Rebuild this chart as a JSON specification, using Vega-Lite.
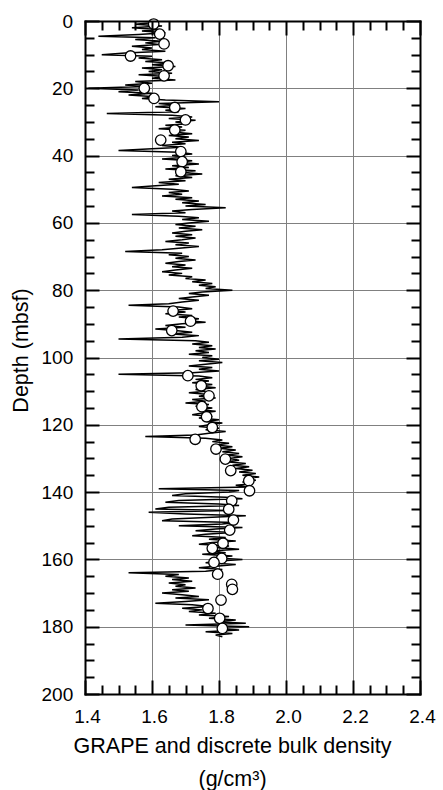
{
  "$schema": "https://vega.github.io/schema/vega-lite/v6.json",
  "width": 335,
  "height": 673,
  "autosize": "none",
  "padding": {"left": 85, "top": 21, "right": 23, "bottom": 96},
  "background": "white",
  "config": {
    "view": {"stroke": null},
    "axis": {"labelFont": "Liberation Sans", "titleFont": "Liberation Sans", "labelColor": "black", "titleColor": "black", "tickColor": "black", "domainColor": "black"}
  },
  "datasets": {
    "grape": [
      {"depth":0.5,"density":1.60},{"depth":1.0,"density":1.55},{"depth":1.5,"density":1.63},{"depth":2.0,"density":1.54},{"depth":2.5,"density":1.62},{"depth":3.0,"density":1.57},{"depth":3.5,"density":1.64},{"depth":4.0,"density":1.56},{"depth":4.5,"density":1.44},{"depth":5.0,"density":1.61},
      {"depth":5.5,"density":1.55},{"depth":6.0,"density":1.63},{"depth":6.5,"density":1.58},{"depth":7.0,"density":1.62},{"depth":7.5,"density":1.54},{"depth":8.0,"density":1.60},{"depth":8.5,"density":1.57},{"depth":9.0,"density":1.64},{"depth":9.5,"density":1.52},{"depth":10.0,"density":1.45},
      {"depth":10.5,"density":1.60},{"depth":11.0,"density":1.56},{"depth":11.5,"density":1.63},{"depth":12.0,"density":1.58},{"depth":12.5,"density":1.66},{"depth":13.0,"density":1.60},{"depth":13.5,"density":1.67},{"depth":14.0,"density":1.57},{"depth":14.5,"density":1.63},{"depth":15.0,"density":1.59},
      {"depth":15.5,"density":1.66},{"depth":16.0,"density":1.56},{"depth":16.5,"density":1.64},{"depth":17.0,"density":1.60},{"depth":17.5,"density":1.67},{"depth":18.0,"density":1.55},{"depth":18.5,"density":1.60},{"depth":19.0,"density":1.52},{"depth":19.5,"density":1.58},{"depth":20.0,"density":1.41},
      {"depth":20.5,"density":1.56},{"depth":21.0,"density":1.50},{"depth":21.5,"density":1.60},{"depth":22.0,"density":1.53},{"depth":22.5,"density":1.61},{"depth":23.0,"density":1.57},{"depth":23.5,"density":1.64},{"depth":24.0,"density":1.80},{"depth":24.5,"density":1.62},{"depth":25.0,"density":1.67},
      {"depth":25.5,"density":1.61},{"depth":26.0,"density":1.70},{"depth":26.5,"density":1.64},{"depth":27.0,"density":1.68},{"depth":27.5,"density":1.465},{"depth":28.0,"density":1.66},{"depth":28.5,"density":1.72},{"depth":29.0,"density":1.65},{"depth":29.5,"density":1.73},{"depth":30.0,"density":1.67},
      {"depth":30.5,"density":1.71},{"depth":31.0,"density":1.64},{"depth":31.5,"density":1.69},{"depth":32.0,"density":1.62},{"depth":32.5,"density":1.70},{"depth":33.0,"density":1.66},{"depth":33.5,"density":1.72},{"depth":34.0,"density":1.65},{"depth":34.5,"density":1.71},{"depth":35.0,"density":1.67},
      {"depth":35.5,"density":1.74},{"depth":36.0,"density":1.66},{"depth":36.5,"density":1.70},{"depth":37.0,"density":1.63},{"depth":37.5,"density":1.69},{"depth":38.0,"density":1.60},{"depth":38.5,"density":1.50},{"depth":39.0,"density":1.68},{"depth":39.5,"density":1.72},{"depth":40.0,"density":1.66},
      {"depth":40.5,"density":1.70},{"depth":41.0,"density":1.63},{"depth":41.5,"density":1.72},{"depth":42.0,"density":1.68},{"depth":42.5,"density":1.74},{"depth":43.0,"density":1.66},{"depth":43.5,"density":1.71},{"depth":44.0,"density":1.64},{"depth":44.5,"density":1.73},{"depth":45.0,"density":1.69},
      {"depth":45.5,"density":1.75},{"depth":46.0,"density":1.67},{"depth":46.5,"density":1.72},{"depth":47.0,"density":1.65},{"depth":47.5,"density":1.70},{"depth":48.0,"density":1.62},{"depth":48.5,"density":1.68},{"depth":49.0,"density":1.60},{"depth":49.5,"density":1.54},{"depth":50.0,"density":1.66},
      {"depth":50.5,"density":1.71},{"depth":51.0,"density":1.65},{"depth":51.5,"density":1.69},{"depth":52.0,"density":1.63},{"depth":52.5,"density":1.72},{"depth":53.0,"density":1.67},{"depth":53.5,"density":1.74},{"depth":54.0,"density":1.69},{"depth":54.5,"density":1.76},{"depth":55.0,"density":1.70},
      {"depth":55.5,"density":1.82},{"depth":56.0,"density":1.72},{"depth":56.5,"density":1.66},{"depth":57.0,"density":1.70},{"depth":57.5,"density":1.54},{"depth":58.0,"density":1.68},{"depth":58.5,"density":1.74},{"depth":59.0,"density":1.69},{"depth":59.5,"density":1.77},{"depth":60.0,"density":1.71},
      {"depth":60.5,"density":1.67},{"depth":61.0,"density":1.73},{"depth":61.5,"density":1.68},{"depth":62.0,"density":1.75},{"depth":62.5,"density":1.70},{"depth":63.0,"density":1.66},{"depth":63.5,"density":1.72},{"depth":64.0,"density":1.67},{"depth":64.5,"density":1.73},{"depth":65.0,"density":1.69},
      {"depth":65.5,"density":1.64},{"depth":66.0,"density":1.71},{"depth":66.5,"density":1.67},{"depth":67.0,"density":1.74},{"depth":67.5,"density":1.68},{"depth":68.0,"density":1.63},{"depth":68.5,"density":1.52},{"depth":69.0,"density":1.69},{"depth":69.5,"density":1.65},{"depth":70.0,"density":1.71},
      {"depth":70.5,"density":1.67},{"depth":71.0,"density":1.73},{"depth":71.5,"density":1.68},{"depth":72.0,"density":1.64},{"depth":72.5,"density":1.70},{"depth":73.0,"density":1.66},{"depth":73.5,"density":1.72},{"depth":74.0,"density":1.67},{"depth":74.5,"density":1.63},{"depth":75.0,"density":1.69},
      {"depth":75.5,"density":1.65},{"depth":76.0,"density":1.72},{"depth":76.5,"density":1.70},{"depth":77.0,"density":1.76},{"depth":77.5,"density":1.72},{"depth":78.0,"density":1.78},{"depth":78.5,"density":1.74},{"depth":79.0,"density":1.79},{"depth":79.5,"density":1.76},{"depth":80.0,"density":1.84},
      {"depth":80.5,"density":1.75},{"depth":81.0,"density":1.71},{"depth":81.5,"density":1.77},{"depth":82.0,"density":1.72},{"depth":82.5,"density":1.68},{"depth":83.0,"density":1.74},{"depth":83.5,"density":1.69},{"depth":84.0,"density":1.65},{"depth":84.5,"density":1.53},{"depth":85.0,"density":1.68},
      {"depth":85.5,"density":1.72},{"depth":86.0,"density":1.66},{"depth":86.5,"density":1.70},{"depth":87.0,"density":1.64},{"depth":87.5,"density":1.72},{"depth":88.0,"density":1.68},{"depth":88.5,"density":1.74},{"depth":89.0,"density":1.70},{"depth":89.5,"density":1.76},{"depth":90.0,"density":1.69},
      {"depth":90.5,"density":1.64},{"depth":91.0,"density":1.70},{"depth":91.5,"density":1.61},{"depth":92.0,"density":1.67},{"depth":92.5,"density":1.72},{"depth":93.0,"density":1.66},{"depth":93.5,"density":1.74},{"depth":94.0,"density":1.69},{"depth":94.5,"density":1.50},{"depth":95.0,"density":1.73},
      {"depth":95.5,"density":1.77},{"depth":96.0,"density":1.72},{"depth":96.5,"density":1.78},{"depth":97.0,"density":1.74},{"depth":97.5,"density":1.79},{"depth":98.0,"density":1.73},{"depth":98.5,"density":1.77},{"depth":99.0,"density":1.71},{"depth":99.5,"density":1.78},{"depth":100.0,"density":1.75},
      {"depth":100.5,"density":1.80},{"depth":101.0,"density":1.74},{"depth":101.5,"density":1.81},{"depth":102.0,"density":1.76},{"depth":102.5,"density":1.71},{"depth":103.0,"density":1.78},{"depth":103.5,"density":1.74},{"depth":104.0,"density":1.80},{"depth":104.5,"density":1.72},{"depth":105.0,"density":1.50},
      {"depth":105.5,"density":1.74},{"depth":106.0,"density":1.78},{"depth":106.5,"density":1.73},{"depth":107.0,"density":1.77},{"depth":107.5,"density":1.72},{"depth":108.0,"density":1.78},{"depth":108.5,"density":1.74},{"depth":109.0,"density":1.79},{"depth":109.5,"density":1.73},{"depth":110.0,"density":1.76},
      {"depth":110.5,"density":1.71},{"depth":111.0,"density":1.77},{"depth":111.5,"density":1.74},{"depth":112.0,"density":1.79},{"depth":112.5,"density":1.72},{"depth":113.0,"density":1.76},{"depth":113.5,"density":1.70},{"depth":114.0,"density":1.77},{"depth":114.5,"density":1.73},{"depth":115.0,"density":1.78},
      {"depth":115.5,"density":1.74},{"depth":116.0,"density":1.79},{"depth":116.5,"density":1.75},{"depth":117.0,"density":1.72},{"depth":117.5,"density":1.78},{"depth":118.0,"density":1.74},{"depth":118.5,"density":1.80},{"depth":119.0,"density":1.76},{"depth":119.5,"density":1.81},{"depth":120.0,"density":1.77},
      {"depth":120.5,"density":1.74},{"depth":121.0,"density":1.80},{"depth":121.5,"density":1.76},{"depth":122.0,"density":1.82},{"depth":122.5,"density":1.77},{"depth":123.0,"density":1.73},{"depth":123.5,"density":1.58},{"depth":124.0,"density":1.76},{"depth":124.5,"density":1.81},{"depth":125.0,"density":1.78},
      {"depth":125.5,"density":1.83},{"depth":126.0,"density":1.79},{"depth":126.5,"density":1.84},{"depth":127.0,"density":1.80},{"depth":127.5,"density":1.85},{"depth":128.0,"density":1.81},{"depth":128.5,"density":1.86},{"depth":129.0,"density":1.82},{"depth":129.5,"density":1.87},{"depth":130.0,"density":1.83},
      {"depth":130.5,"density":1.86},{"depth":131.0,"density":1.82},{"depth":131.5,"density":1.88},{"depth":132.0,"density":1.84},{"depth":132.5,"density":1.89},{"depth":133.0,"density":1.85},{"depth":133.5,"density":1.90},{"depth":134.0,"density":1.86},{"depth":134.5,"density":1.91},{"depth":135.0,"density":1.87},
      {"depth":135.5,"density":1.92},{"depth":136.0,"density":1.88},{"depth":136.5,"density":1.91},{"depth":137.0,"density":1.87},{"depth":137.5,"density":1.90},{"depth":138.0,"density":1.85},{"depth":138.5,"density":1.89},{"depth":139.0,"density":1.62},{"depth":139.5,"density":1.86},{"depth":140.0,"density":1.83},
      {"depth":140.5,"density":1.70},{"depth":141.0,"density":1.66},{"depth":141.5,"density":1.82},{"depth":142.0,"density":1.87},{"depth":142.5,"density":1.68},{"depth":143.0,"density":1.64},{"depth":143.5,"density":1.80},{"depth":144.0,"density":1.86},{"depth":144.5,"density":1.65},{"depth":145.0,"density":1.61},
      {"depth":145.5,"density":1.83},{"depth":146.0,"density":1.59},{"depth":146.5,"density":1.70},{"depth":147.0,"density":1.88},{"depth":147.5,"density":1.78},{"depth":148.0,"density":1.66},{"depth":148.5,"density":1.63},{"depth":149.0,"density":1.85},{"depth":149.5,"density":1.81},{"depth":150.0,"density":1.68},
      {"depth":150.5,"density":1.87},{"depth":151.0,"density":1.79},{"depth":151.5,"density":1.73},{"depth":152.0,"density":1.84},{"depth":152.5,"density":1.76},{"depth":153.0,"density":1.72},{"depth":153.5,"density":1.82},{"depth":154.0,"density":1.77},{"depth":154.5,"density":1.85},{"depth":155.0,"density":1.78},
      {"depth":155.5,"density":1.74},{"depth":156.0,"density":1.83},{"depth":156.5,"density":1.79},{"depth":157.0,"density":1.86},{"depth":157.5,"density":1.77},{"depth":158.0,"density":1.82},{"depth":158.5,"density":1.75},{"depth":159.0,"density":1.84},{"depth":159.5,"density":1.78},{"depth":160.0,"density":1.87},
      {"depth":160.5,"density":1.80},{"depth":161.0,"density":1.76},{"depth":161.5,"density":1.85},{"depth":162.0,"density":1.79},{"depth":162.5,"density":1.74},{"depth":163.0,"density":1.81},{"depth":163.5,"density":1.76},{"depth":164.0,"density":1.53},{"depth":164.5,"density":1.68},{"depth":165.0,"density":1.64},
      {"depth":165.5,"density":1.71},{"depth":166.0,"density":1.66},{"depth":166.5,"density":1.72},{"depth":167.0,"density":1.65},{"depth":167.5,"density":1.70},{"depth":168.0,"density":1.67},{"depth":168.5,"density":1.73},{"depth":169.0,"density":1.66},{"depth":169.5,"density":1.71},{"depth":170.0,"density":1.63},
      {"depth":170.5,"density":1.69},{"depth":171.0,"density":1.74},{"depth":171.5,"density":1.67},{"depth":172.0,"density":1.77},{"depth":172.5,"density":1.70},{"depth":173.0,"density":1.61},{"depth":173.5,"density":1.72},{"depth":174.0,"density":1.77},{"depth":174.5,"density":1.69},{"depth":175.0,"density":1.75},
      {"depth":175.5,"density":1.71},{"depth":176.0,"density":1.79},{"depth":176.5,"density":1.74},{"depth":177.0,"density":1.83},{"depth":177.5,"density":1.77},{"depth":178.0,"density":1.85},{"depth":178.5,"density":1.79},{"depth":179.0,"density":1.88},{"depth":179.5,"density":1.70},{"depth":180.0,"density":1.89},
      {"depth":180.5,"density":1.80},{"depth":181.0,"density":1.86},{"depth":181.5,"density":1.76},{"depth":182.0,"density":1.84},{"depth":182.5,"density":1.79},{"depth":183.0,"density":1.81}
    ],
    "discrete": [
      {"depth":0.9,"density":1.605},{"depth":3.9,"density":1.623},{"depth":6.8,"density":1.636},{"depth":10.4,"density":1.536},{"depth":13.3,"density":1.648},
      {"depth":16.3,"density":1.636},{"depth":20.0,"density":1.577},{"depth":23.0,"density":1.606},{"depth":25.7,"density":1.668},{"depth":29.4,"density":1.700},
      {"depth":32.4,"density":1.668},{"depth":35.4,"density":1.626},{"depth":38.8,"density":1.686},{"depth":41.8,"density":1.690},{"depth":44.8,"density":1.686},
      {"depth":86.2,"density":1.663},{"depth":89.2,"density":1.715},{"depth":92.0,"density":1.659},{"depth":105.4,"density":1.707},{"depth":108.4,"density":1.747},
      {"depth":111.4,"density":1.770},{"depth":114.6,"density":1.749},{"depth":117.6,"density":1.763},{"depth":120.8,"density":1.780},{"depth":124.3,"density":1.729},
      {"depth":127.2,"density":1.791},{"depth":130.2,"density":1.819},{"depth":133.6,"density":1.835},{"depth":136.6,"density":1.889},{"depth":139.6,"density":1.891},
      {"depth":142.6,"density":1.838},{"depth":145.1,"density":1.829},{"depth":148.3,"density":1.843},{"depth":151.3,"density":1.832},{"depth":155.2,"density":1.812},
      {"depth":156.7,"density":1.780},{"depth":159.7,"density":1.808},{"depth":160.9,"density":1.785},{"depth":164.4,"density":1.796},{"depth":167.4,"density":1.838},
      {"depth":168.9,"density":1.840},{"depth":172.1,"density":1.806},{"depth":174.6,"density":1.767},{"depth":177.5,"density":1.802},{"depth":180.5,"density":1.810}
    ]
  },
  "layer": [
    {
      "data": {"name": "grape"},
      "mark": {"type": "line", "color": "black", "strokeWidth": 1.5},
      "encoding": {
        "x": {"field": "density", "type": "quantitative",
          "scale": {"domain": [1.4, 2.4], "nice": false, "zero": false},
          "axis": {"orient": "bottom", "values": [1.4, 1.6, 1.8, 2.0, 2.2, 2.4], "format": ".1f",
            "grid": true, "gridColor": "#808080", "gridWidth": 1, "gridOpacity": 1,
            "tickSize": -14, "tickWidth": 2, "domainWidth": 2, "domainCap": "square",
            "labelFontSize": 19, "labelPadding": 27.6, "labelFlush": false, "labelOverlap": false, "labelBound": false, "labelOffset": 2,
            "title": ["GRAPE and discrete bulk density", "(g/cm³)"], "titleFontSize": 21.5, "titleFontWeight": "normal",
            "titleX": 147, "titleY": 58, "titleAlign": "center", "titleBaseline": "alphabetic", "titleLineHeight": 33.7, "zindex": 0}},
        "y": {"field": "depth", "type": "quantitative",
          "scale": {"domain": [0, 200], "nice": false, "zero": false, "reverse": true},
          "axis": {"orient": "left", "values": [0, 20, 40, 60, 80, 100, 120, 140, 160, 180, 200], "format": "d",
            "grid": true, "gridColor": "#808080", "gridWidth": 1, "gridOpacity": 1,
            "tickSize": -14, "tickWidth": 2, "domainWidth": 2, "domainCap": "square",
            "labelFontSize": 19, "labelPadding": 26.3, "labelFlush": false, "labelOverlap": false, "labelBound": false,
            "title": "Depth (mbsf)", "titleFontSize": 21.5, "titleFontWeight": "normal", "titleAngle": 270,
            "titleX": -57.3, "titleY": 329, "titleAlign": "center", "titleBaseline": "alphabetic", "zindex": 0}},
        "order": {"field": "depth", "type": "quantitative"}
      }
    },
    {
      "data": {"name": "discrete"},
      "mark": {"type": "point", "shape": "circle", "filled": true, "fill": "white", "stroke": "black", "strokeWidth": 1.3, "size": 110, "opacity": 1},
      "encoding": {
        "x": {"field": "density", "type": "quantitative",
          "axis": {"orient": "bottom", "values": [1.45, 1.5, 1.55, 1.65, 1.7, 1.75, 1.85, 1.9, 1.95, 2.05, 2.1, 2.15, 2.25, 2.3, 2.35],
            "labels": false, "grid": false, "domain": false, "tickSize": -9, "tickWidth": 2, "title": null, "zindex": 1}},
        "y": {"field": "depth", "type": "quantitative",
          "axis": {"orient": "left", "values": [5, 10, 15, 25, 30, 35, 45, 50, 55, 65, 70, 75, 85, 90, 95, 105, 110, 115, 125, 130, 135, 145, 150, 155, 165, 170, 175, 185, 190, 195],
            "labels": false, "grid": false, "domain": false, "tickSize": -9, "tickWidth": 2, "title": null, "zindex": 1}}
      }
    },
    {
      "data": {"name": "discrete"},
      "mark": {"type": "point", "opacity": 0},
      "encoding": {
        "x": {"field": "density", "type": "quantitative",
          "axis": {"orient": "top", "values": [1.4, 1.6, 1.8, 2.0, 2.2, 2.4],
            "labels": false, "grid": false, "domain": true, "domainWidth": 2, "domainCap": "square", "tickSize": -14, "tickWidth": 2, "title": null, "zindex": 1}},
        "y": {"field": "depth", "type": "quantitative",
          "axis": {"orient": "right", "values": [0, 20, 40, 60, 80, 100, 120, 140, 160, 180, 200],
            "labels": false, "grid": false, "domain": true, "domainWidth": 2, "domainCap": "square", "tickSize": -14, "tickWidth": 2, "title": null, "zindex": 1}}
      }
    },
    {
      "data": {"name": "discrete"},
      "mark": {"type": "point", "opacity": 0},
      "encoding": {
        "x": {"field": "density", "type": "quantitative",
          "axis": {"orient": "top", "values": [1.45, 1.5, 1.55, 1.65, 1.7, 1.75, 1.85, 1.9, 1.95, 2.05, 2.1, 2.15, 2.25, 2.3, 2.35],
            "labels": false, "grid": false, "domain": false, "tickSize": -9, "tickWidth": 2, "title": null, "zindex": 1}},
        "y": {"field": "depth", "type": "quantitative",
          "axis": {"orient": "right", "values": [5, 10, 15, 25, 30, 35, 45, 50, 55, 65, 70, 75, 85, 90, 95, 105, 110, 115, 125, 130, 135, 145, 150, 155, 165, 170, 175, 185, 190, 195],
            "labels": false, "grid": false, "domain": false, "tickSize": -9, "tickWidth": 2, "title": null, "zindex": 1}}
      }
    }
  ],
  "resolve": {"axis": {"x": "independent", "y": "independent"}}
}
